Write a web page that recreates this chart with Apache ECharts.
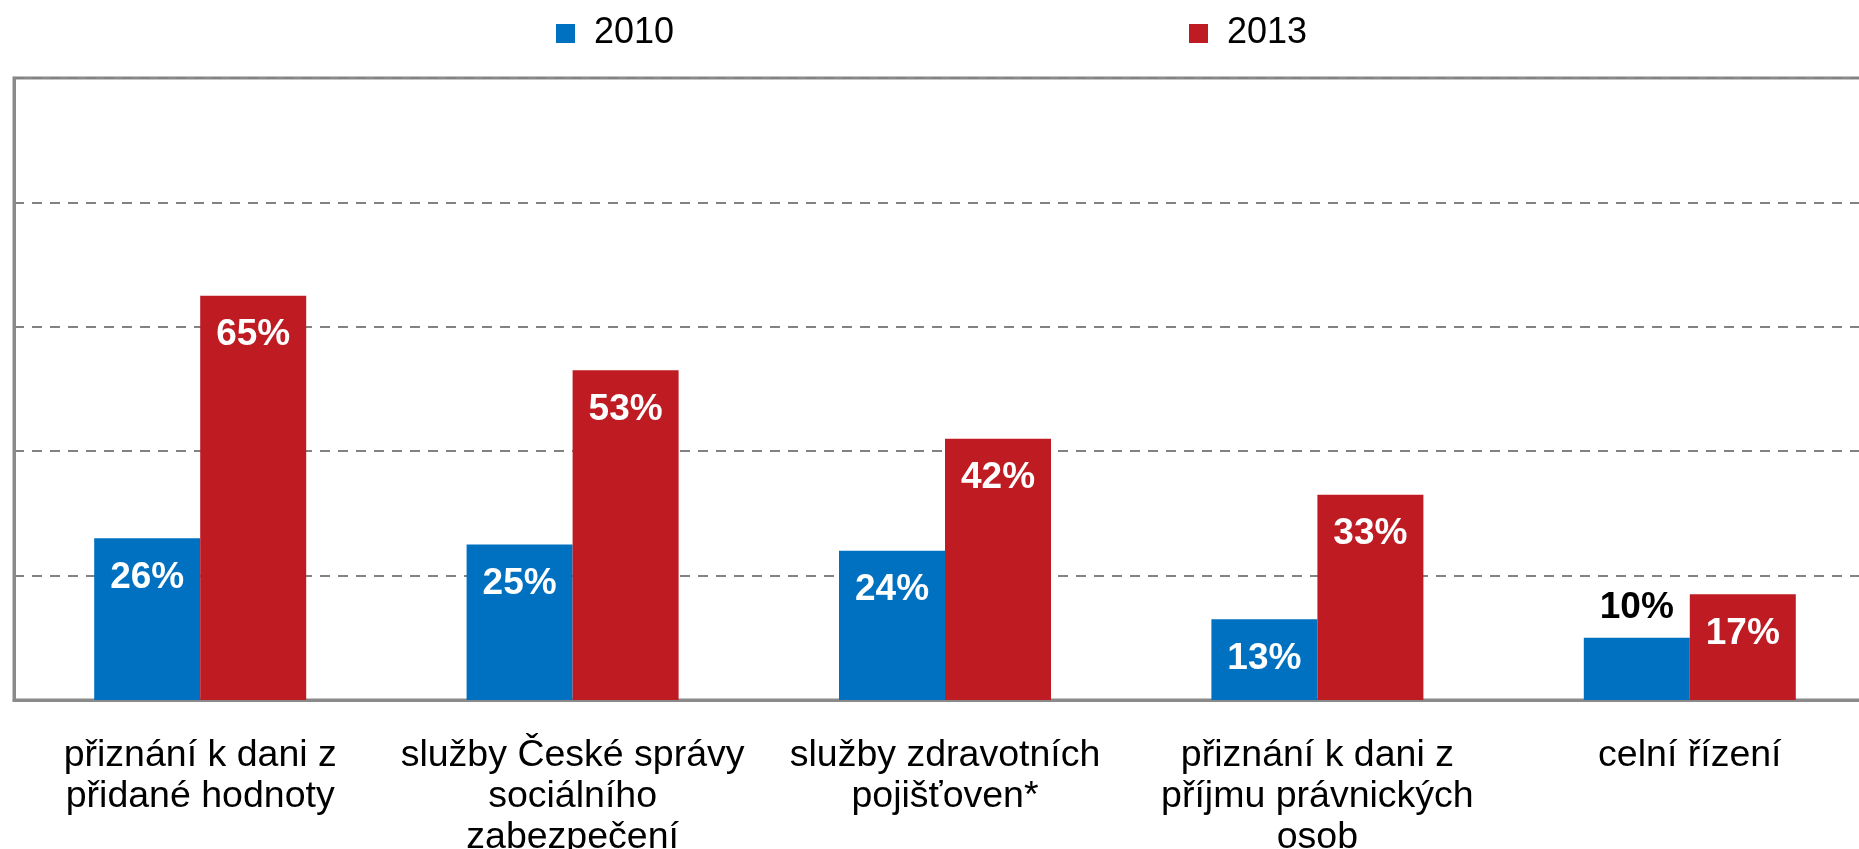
<!DOCTYPE html>
<html>
<head>
<meta charset="utf-8">
<title>chart</title>
<script src="https://cdn.jsdelivr.net/npm/echarts@6/dist/echarts.min.js"></script>
<style>
  html, body { margin: 0; padding: 0; background: #fff; }
  #main { width: 1859px; height: 849px; }
</style>
</head>
<body>
<div id="main"></div>
<script>
var categories = [
    'přiznání k dani z\npřidané hodnoty',
    'služby České správy\nsociálního\nzabezpečení',
    'služby zdravotních\npojišťoven*',
    'přiznání k dani z\npříjmu právnických\nosob',
    'celní řízení'
]
var years = ['2010', '2013']
var values2010 = [26, 25, 24, 13, 10]
var values2013 = [65, 53, 42, 33, 17]

var font = '"Liberation Sans", Arial, sans-serif'
var gray = '#8a8a8a'

// the smallest 2010 bar gets its label above in black
var data2010 = values2010.map(function (v) {
    if (v < 12) {
        return {
            value: v,
            label: { position: 'top', distance: 12, color: '#000' }
        }
    }
    return v
})

var myChart = echarts.init(document.getElementById('main'))

function legendFor(name, x) {
    return {
        data: [name],
        left: x,
        top: 15,
        padding: 0,
        icon: 'rect',
        itemWidth: 19,
        itemHeight: 19,
        textStyle: { fontSize: 36, lineHeight: 37, color: '#000', padding: [0, 0, 0, 14], fontFamily: font }
    }
}

option = {
    animation: false,
    textStyle: { fontFamily: font },
    legend: [legendFor(years[0], 556), legendFor(years[1], 1189)],
    grid: {
        left: 14,
        top: 78,
        width: 1862,
        bottom: 149,
        outerBoundsMode: 'none',
        containLabel: false,
        show: true,
        borderColor: gray,
        borderWidth: 3
    },
    xAxis: {
        type: 'category',
        data: categories,
        axisLine: { lineStyle: { color: gray, width: 3 } },
        axisTick: { length: 11, lineStyle: { color: gray, width: 2 } },
        axisLabel: {
            interval: 0,
            margin: 35,
            fontSize: 37.5,
            lineHeight: 41,
            color: '#000',
            fontFamily: font
        }
    },
    yAxis: {
        type: 'value',
        min: 0,
        max: 100,
        interval: 20,
        axisLabel: { show: false },
        axisTick: { show: false },
        axisLine: { show: true, lineStyle: { color: gray, width: 3 } },
        splitLine: {
            lineStyle: { color: '#828282', width: 2, type: [10, 8] }
        }
    },
    series: [{
        name: years[0],
        type: 'bar',
        data: data2010,
        barWidth: 106,
        barGap: '0%',
        itemStyle: { color: '#0070c0' },
        label: {
            show: true,
            position: 'insideTop',
            distance: 21,
            formatter: '{c}%',
            color: '#fff',
            fontWeight: 'bold',
            fontSize: 37,
            fontFamily: font
        }
    }, {
        name: years[1],
        type: 'bar',
        data: values2013,
        barWidth: 106,
        barGap: '0%',
        itemStyle: { color: '#be1b23' },
        label: {
            show: true,
            position: 'insideTop',
            distance: 21,
            formatter: '{c}%',
            color: '#fff',
            fontWeight: 'bold',
            fontSize: 37,
            fontFamily: font
        }
    }]
}
myChart.setOption(option)
</script>
</body>
</html>
